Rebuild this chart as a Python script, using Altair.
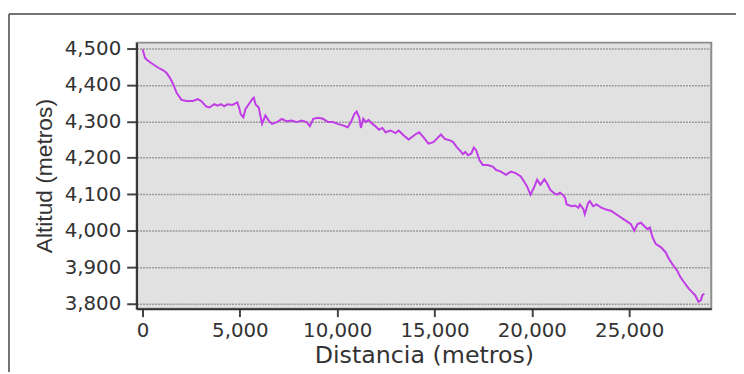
import altair as alt
import pandas as pd

distancia = [0, 135, 220, 390, 560, 810, 1066, 1235, 1400, 1575, 1745, 2000, 2250, 2590, 2840, 3010,
             3265, 3435, 3690, 3860, 4030, 4195, 4365, 4620, 4870, 4960, 5040, 5180, 5290, 5460, 5635,
             5720, 5800, 5970, 6140, 6310, 6480, 6650, 6900, 7160, 7410, 7660, 7920, 8170, 8430, 8600,
             8770, 9020, 9270, 9530, 9780, 10030, 10290, 10540, 10710, 10880, 11000, 11130, 11220,
             11340, 11470, 11610, 11810, 11980, 12150, 12320, 12490, 12740, 12995, 13160, 13420,
             13670, 13840, 14010, 14210, 14430, 14690, 14940, 15110, 15330, 15530, 15790, 15960,
             16130, 16290, 16460, 16580, 16720, 16890, 17020, 17140, 17310, 17480, 17730, 17990,
             18160, 18410, 18670, 18920, 19170, 19430, 19600, 19760, 19930, 20100, 20270, 20440,
             20640, 20780, 20950, 21120, 21280, 21450, 21620, 21710, 21790, 22050, 22220, 22390,
             22470, 22640, 22720, 22890, 22980, 23150, 23320, 23570, 23820, 24080, 24330, 24590,
             24840, 25090, 25260, 25430, 25600, 25770, 25940, 26060, 26200, 26360, 26620, 26870,
             27040, 27210, 27460, 27630, 27800, 28060, 28220, 28390, 28560, 28680, 28760, 28860]
altitud = [4498, 4474, 4469, 4462, 4456, 4447, 4440, 4433, 4420, 4402, 4379, 4359, 4356, 4356, 4361, 4356,
           4341, 4338, 4347, 4343, 4347, 4341, 4347, 4345, 4352, 4338, 4320, 4311, 4334, 4347, 4361,
           4365, 4347, 4338, 4293, 4316, 4302, 4293, 4298, 4307, 4300, 4302, 4298, 4302, 4298, 4287,
           4307, 4310, 4307, 4298, 4298, 4293, 4289, 4284, 4298, 4320, 4327, 4311, 4282,
           4307, 4298, 4304, 4293, 4286, 4277, 4282, 4270, 4275, 4268, 4275, 4261,
           4250, 4257, 4264, 4270, 4257, 4239, 4243, 4252, 4264, 4252, 4248, 4243,
           4230, 4221, 4210, 4216, 4207, 4212, 4228, 4221, 4194, 4180, 4180, 4176,
           4167, 4162, 4153, 4162, 4158, 4149, 4135, 4121, 4099, 4117, 4140, 4126,
           4141, 4130, 4112, 4104, 4099, 4104, 4097, 4090, 4072, 4067, 4069, 4063,
           4072, 4060, 4045, 4076, 4081, 4067, 4072, 4063, 4058, 4054, 4045, 4036,
           4027, 4018, 4000, 4018, 4022, 4013, 4004, 4009, 3982, 3964, 3955, 3941,
           3923, 3909, 3891, 3873, 3860, 3841, 3832, 3823, 3805, 3809, 3823, 3827]

x_ticks = [0, 5000, 10000, 15000, 20000, 25000]
y_ticks = [3800, 3900, 4000, 4100, 4200, 4300, 4400, 4500]

df = pd.DataFrame({"Distancia": distancia, "Altitud": altitud})

line = alt.Chart(df).mark_line(color="#c03ce6", strokeWidth=2).encode(
    x=alt.X("Distancia:Q",
            scale=alt.Scale(domain=[-305, 29217], nice=False, zero=False),
            axis=alt.Axis(values=x_ticks, format=",d", title="Distancia (metros)",
                          grid=False, tickSize=8, labelPadding=4,
                          labelFont="DejaVu Sans", labelFontSize=20,
                          titleFont="DejaVu Sans", titleFontSize=24, titleFontWeight="normal",
                          titleBaseline="alphabetic", titleY=54)),
    y=alt.Y("Altitud:Q",
            scale=alt.Scale(domain=[3786, 4516], nice=False, zero=False),
            axis=alt.Axis(values=y_ticks, format=",d", title="Altitud (metros)",
                          grid=True, gridDash=[2, 1], gridColor="#9a9a9a", gridWidth=1.5,
                          tickSize=10, labelPadding=6,
                          labelFont="DejaVu Sans", labelFontSize=20,
                          titleFont="Liberation Sans", titleFontSize=23, titleFontWeight="normal",
                          titleBaseline="alphabetic", titleX=-86)),
)

one = pd.DataFrame({"k": [0]})
frame_top = alt.Chart(one).mark_rule(color="#444444", strokeWidth=1.5).encode(
    x=alt.value(-129), x2=alt.value(620), y=alt.value(-29))
frame_left = alt.Chart(one).mark_rule(color="#444444", strokeWidth=1.5).encode(
    x=alt.value(-129), y=alt.value(-29), y2=alt.value(340))

chart = alt.layer(frame_top, frame_left, line).properties(
    width=581, height=269,
    padding={"left": 130, "top": 33, "right": 25, "bottom": 62},
    autosize=alt.AutoSizeParams(type="none"),
    background="white",
).configure_view(
    fill="#e1e1e1", stroke="#8c8c8c", strokeWidth=2
).configure_axis(
    domainColor="#333333", domainWidth=2,
    tickColor="#444444", tickWidth=2,
    labelColor="#333333", titleColor="#333333",
)

chart.save("out.html", embed_options={"renderer": "svg", "actions": False})
